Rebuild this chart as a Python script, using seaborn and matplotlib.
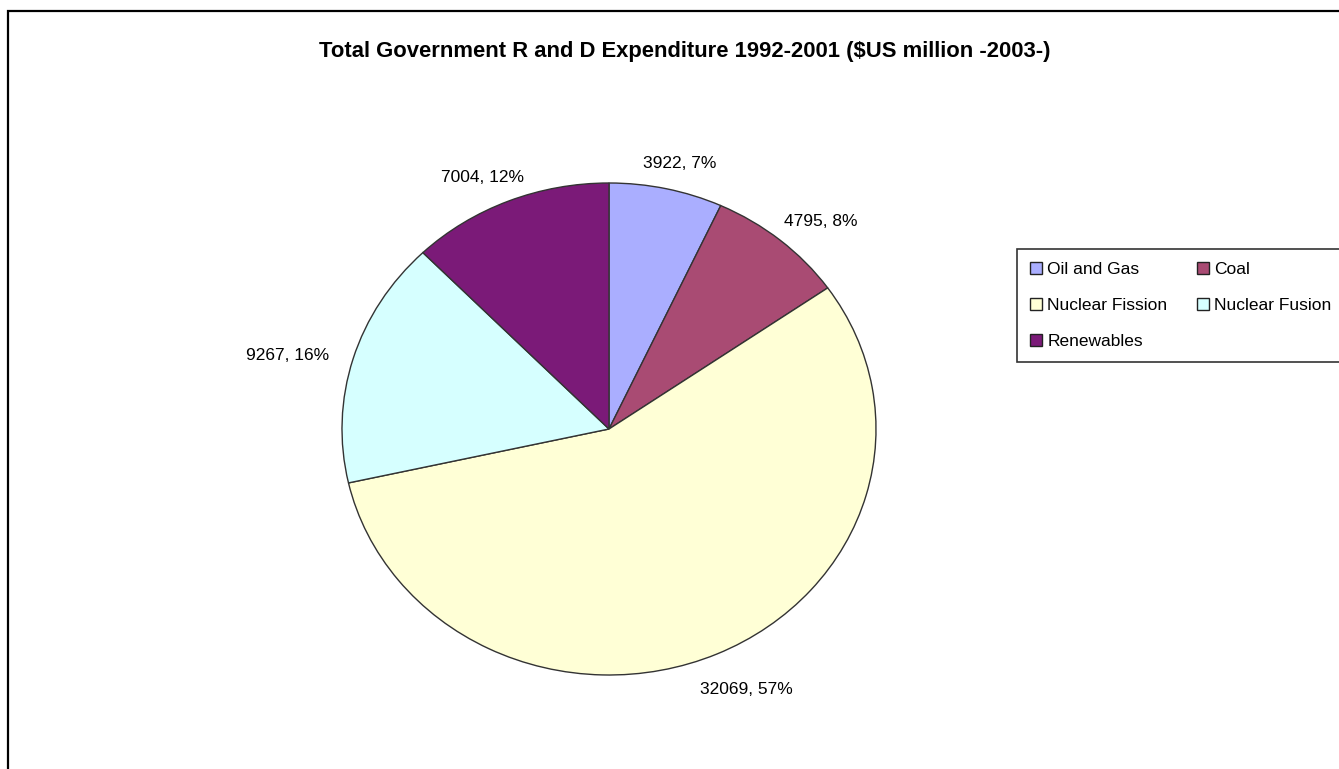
import matplotlib
matplotlib.use("Agg")
import matplotlib.pyplot as plt
import seaborn as sns
import numpy as np
from matplotlib.patches import Patch, Rectangle

categories = ["Oil and Gas", "Coal", "Nuclear Fission", "Nuclear Fusion", "Renewables"]
values = [3922, 4795, 32069, 9267, 7004]
percents = [7, 8, 57, 16, 12]
colors = ["#AAAEFF", "#A94B73", "#FFFFD6", "#D6FFFF", "#7B1A78"]
title = "Total Government R and D Expenditure 1992-2001 ($US million -2003-)"

sns.set_theme(style="white")
plt.rcParams['font.family'] = ['Liberation Sans', 'DejaVu Sans']
plt.rcParams['text.color'] = 'black'

W, H = 1339, 769
fig = plt.figure(figsize=(W / 100, H / 100), dpi=100)
fig.patch.set_facecolor("white")

ax = fig.add_axes([342 / W, 94 / H, 534 / W, 492 / H])
pal = sns.color_palette(colors)
wedges, _ = ax.pie(values, colors=pal, startangle=90, counterclock=False, radius=1,
                   wedgeprops=dict(edgecolor="#333333", linewidth=1))
ax.set_aspect("auto")
ax.set_xlim(-1, 1)
ax.set_ylim(-1, 1)
ax.axis("off")

# data labels outside the pie
texts = []
for w, v, p in zip(wedges, values, percents):
    th = np.deg2rad((w.theta1 + w.theta2) / 2)
    r = 1.1
    t = ax.annotate(f"{v}, {p}%", xy=(r * np.cos(th), r * np.sin(th)), xytext=(0, 0),
                    textcoords="offset pixels", ha="center", va="center",
                    fontsize=12.5, color="black", annotation_clip=False)
    texts.append((t, th))
fig.canvas.draw()
for t, th in texts:
    bb = t.get_window_extent()
    t.set_position((np.cos(th) * bb.width / 2, np.sin(th) * bb.height / 2 - 6))

fig.text(685 / W, 1 - 51 / H, title, ha="center", va="center", fontsize=15.8,
         fontweight="bold", color="black")

# legend filled row by row (two columns)
order = list(range(0, len(categories), 2)) + list(range(1, len(categories), 2))
handles = [Patch(facecolor=colors[i], edgecolor="#222222", linewidth=1) for i in order]
labels = [categories[i] for i in order]
leg = fig.legend(handles, labels, ncol=2, loc="upper left",
                 bbox_to_anchor=(1017 / W, 1 - 249 / H), frameon=True, fancybox=False,
                 edgecolor="black", handlelength=0.7, handleheight=0.7, fontsize=12.5,
                 columnspacing=1.7, labelspacing=1.2, borderpad=0.75, handletextpad=0.3,
                 borderaxespad=0)
leg.get_frame().set_linewidth(1.2)
for txt in leg.get_texts():
    txt.set_color("black")

fig.add_artist(Rectangle((8 / W, -0.1), 1.2, 1 - 11 / H + 0.1, transform=fig.transFigure,
                         fill=False, edgecolor="black", linewidth=1.6, clip_on=False))

fig.savefig("out.png", dpi=100)
